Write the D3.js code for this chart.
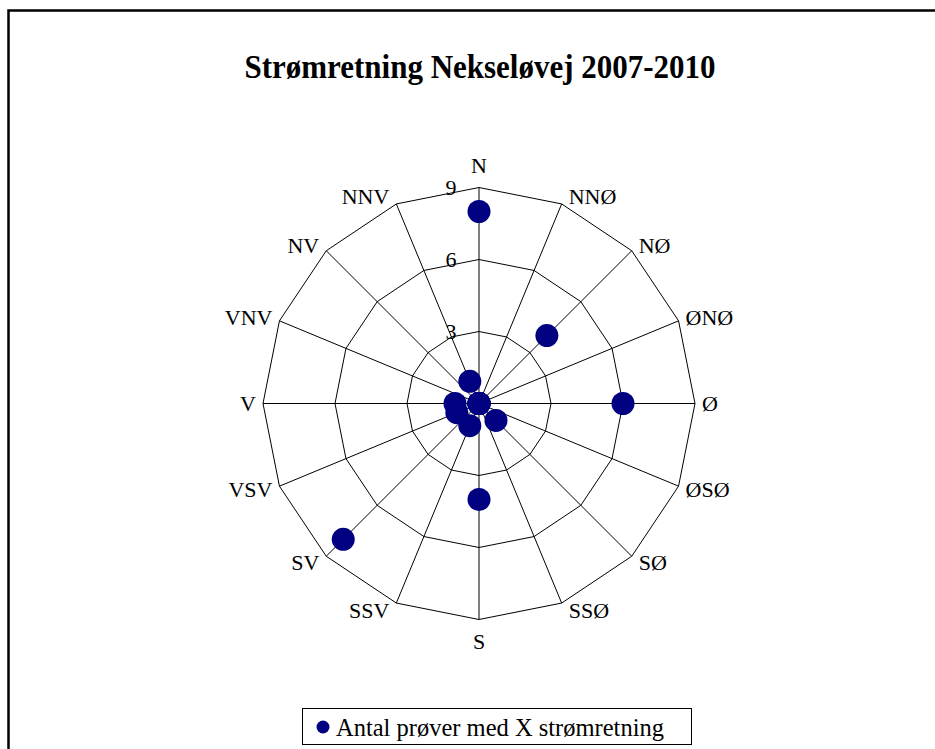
<!DOCTYPE html>
<html><head><meta charset="utf-8">
<script src="https://cdn.jsdelivr.net/npm/d3@7"></script>
<style>body{margin:0;background:#fff}svg{display:block}</style>
</head><body>
<svg id="c" width="935" height="749"></svg>
<script>
const directions = ["N","NNØ","NØ","ØNØ","Ø","ØSØ","SØ","SSØ","S","SSV","SV","VSV","V","VNV","NV","NNV"];
const counts = [8,0,4,0,6,0,1,0,4,1,8,1,1,0,0,1];
const ticks = [0,3,6,9];
const title = "Strømretning Nekseløvej 2007-2010";
const seriesName = "Antal prøver med X strømretning";

const svg = d3.select("#c");
const font = "'Liberation Serif','Times New Roman',serif";
const cx = 479, cy = 403.5, R = 216;

svg.append("rect").attr("x",8.5).attr("y",10.5).attr("width",960).attr("height",780)
  .attr("fill","#fff").attr("stroke","#000").attr("stroke-width",2.5);

svg.append("text").attr("x",480).attr("y",78).attr("text-anchor","middle")
  .attr("font-family",font).attr("font-weight","bold").attr("font-size",31)
  .attr("transform","translate(0,78) scale(1,1.08) translate(0,-78)")
  .text(title);

const r = d3.scaleLinear().domain([0,9]).range([0,R]);
const ang = d3.scalePoint().domain(directions).range([0, 2*Math.PI*(15/16)]);
const g = svg.append("g").attr("transform",`translate(${cx},${cy})`);
const pt = (a, rad) => [rad*Math.sin(a), -rad*Math.cos(a)];

// rings
ticks.filter(t=>t>0).forEach(t=>{
  g.append("path").attr("fill","none").attr("stroke","#000").attr("stroke-width",1)
    .attr("d", d3.line()(directions.map(d=>pt(ang(d), r(t)))) + "Z");
});
// spokes
g.selectAll("line.sp").data(directions).join("line")
  .attr("x1",0).attr("y1",0)
  .attr("x2",d=>pt(ang(d),R)[0]).attr("y2",d=>pt(ang(d),R)[1])
  .attr("stroke","#000").attr("stroke-width",1);

// tick labels
g.selectAll("text.tk").data(ticks).join("text")
  .attr("x",-28).attr("y",d=>-r(d)).attr("dy","0.35em")
  .attr("text-anchor","middle").attr("font-family",font).attr("font-size",22)
  .text(d=>d);

// direction labels
g.selectAll("text.dl").data(directions).join("text")
  .each(function(d){
    const a = ang(d), s = Math.sin(a), c = Math.cos(a);
    const [x,y] = pt(a,R);
    const el = d3.select(this);
    if (Math.abs(s) < 0.01) {
      el.attr("x",x).attr("y", y - 22*c).attr("text-anchor","middle");
    } else {
      el.attr("x", x + 7*Math.sign(s)).attr("y", y - 8*c)
        .attr("text-anchor", s>0 ? "start" : "end");
    }
  })
  .attr("dy","0.35em").attr("font-family",font).attr("font-size",22)
  .text(d=>d);

// data points
g.selectAll("circle.pt").data(directions.map((d,i)=>({d,v:counts[i]}))).join("circle")
  .attr("cx",o=>pt(ang(o.d),r(o.v))[0]).attr("cy",o=>pt(ang(o.d),r(o.v))[1])
  .attr("r",11.5).attr("fill","#000080");

// legend
const lg = svg.append("g");
lg.append("rect").attr("x",302.5).attr("y",708.5).attr("width",389).attr("height",36)
  .attr("fill","#fff").attr("stroke","#000").attr("stroke-width",1);
lg.append("circle").attr("cx",323).attr("cy",727).attr("r",6.5).attr("fill","#000080");
lg.append("text").attr("x",336).attr("y",727).attr("dy","0.35em")
  .attr("font-family",font).attr("font-size",24.5).text(seriesName);
</script>
</body></html>
